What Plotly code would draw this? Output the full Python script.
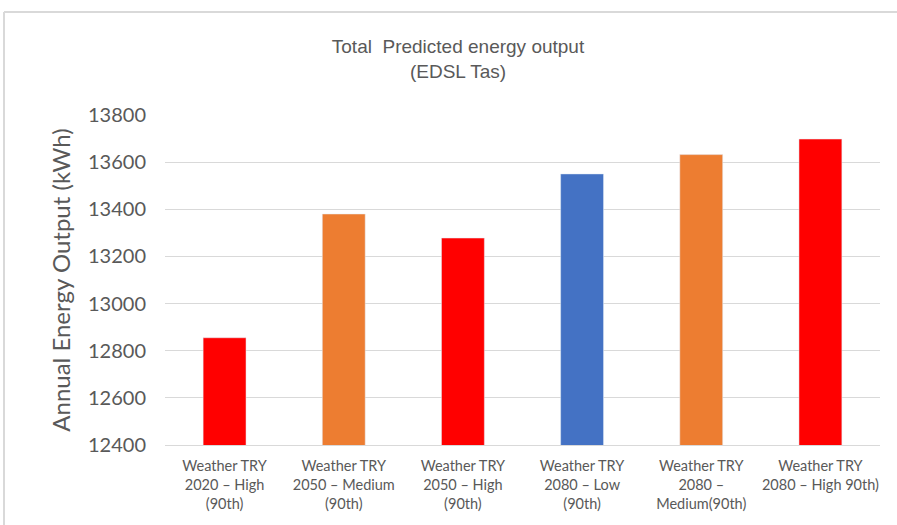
import plotly.graph_objects as go

categories = [
    "Weather TRY<br>2020 – High<br>(90th)",
    "Weather TRY<br>2050 – Medium<br>(90th)",
    "Weather TRY<br>2050 – High<br>(90th)",
    "Weather TRY<br>2080 – Low<br>(90th)",
    "Weather TRY<br>2080 –<br>Medium(90th)",
    "Weather TRY<br>2080 – High 90th)",
]
values = [12855, 13380, 13278, 13550, 13632, 13698]
colors = ["#FF0000", "#ED7D31", "#FF0000", "#4472C4", "#ED7D31", "#FF0000"]
y_ticks = [12400, 12600, 12800, 13000, 13200, 13400, 13600, 13800]

fig = go.Figure(go.Bar(x=categories, y=values, marker_color=colors, width=0.36))

W, H = 897, 525
ml, mr, mt, mb = 165, 17, 115, 80
pw, ph = W - ml - mr, H - mt - mb

def px_x(p):
    return (p - ml) / pw

def px_y(p):
    return (H - mb - p) / ph

fig.update_layout(
    width=W, height=H,
    margin=dict(l=ml, r=mr, t=mt, b=mb),
    paper_bgcolor="white", plot_bgcolor="white",
    showlegend=False,
    font=dict(family="Lato, 'Open Sans', sans-serif", color="#595959"),
    title=dict(
        text="Total  Predicted energy output<br>(EDSL Tas)",
        x=458 / W, xanchor="center", y=1 - 53 / H, yanchor="middle",
        font=dict(size=19, color="#595959", family="Liberation Sans, Arial, sans-serif"),
    ),
    xaxis=dict(
        tickfont=dict(size=14.5, color="#595959"),
        showline=True, linecolor="#d9d9d9", linewidth=1,
        ticks="", showgrid=False, ticklabelstandoff=8,
    ),
    yaxis=dict(
        range=[12400, 13800], tickvals=y_ticks, ticktext=[str(v) for v in y_ticks],
        tickfont=dict(size=20, color="#595959"),
        gridcolor="#d9d9d9", gridwidth=1, zeroline=False,
        ticks="", ticklabelstandoff=18,
        title=dict(text="Annual Energy Output (kWh)", font=dict(size=24, color="#595959"), standoff=10),
    ),
    bargap=0.64,
)

fig.add_shape(type="line", xref="paper", yref="paper",
              x0=px_x(4), x1=px_x(4), y0=px_y(12), y1=px_y(530),
              line=dict(color="#d9d9d9", width=2))
fig.add_shape(type="line", xref="paper", yref="paper",
              x0=px_x(4), x1=px_x(900), y0=px_y(12), y1=px_y(12),
              line=dict(color="#d9d9d9", width=2))

fig.write_html("out.html", config={"displayModeBar": False},
               post_script="document.body.style.margin='0';")
